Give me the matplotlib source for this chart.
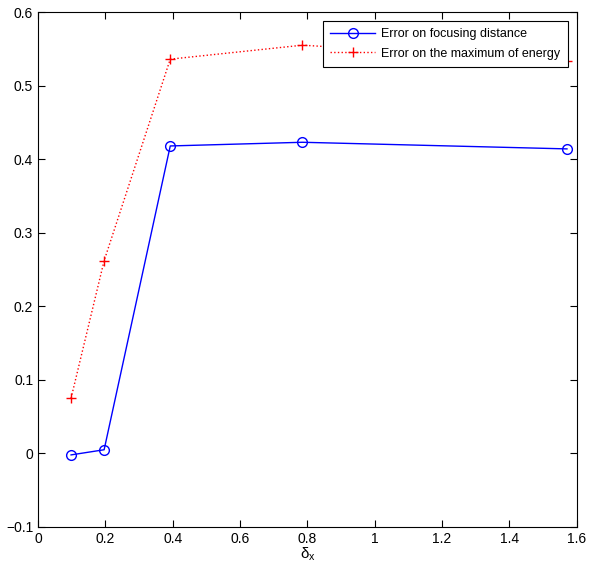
import numpy as np
import matplotlib
matplotlib.use('Agg')
import matplotlib.pyplot as plt

plt.rcParams['font.family'] = ['Liberation Sans', 'DejaVu Sans']
plt.rcParams['mathtext.fontset'] = 'custom'
plt.rcParams['mathtext.rm'] = 'Liberation Sans'
plt.rcParams['mathtext.it'] = 'Liberation Sans'

# Data
delta_x = [np.pi / 32, np.pi / 16, np.pi / 8, np.pi / 4, np.pi / 2]
err_focus = [-0.002, 0.005, 0.418, 0.423, 0.414]
err_energy = [0.075, 0.262, 0.536, 0.555, 0.533]

fig = plt.figure(figsize=(5.91, 5.75), dpi=100)
ax = fig.add_axes([0.0643, 0.0835, 0.9117, 0.8955])

ax.plot(delta_x, err_focus, '-o', color='blue', lw=1, ms=7, mfc='none',
        mew=1, label='Error on focusing distance')
ax.plot(delta_x, err_energy, ':+', color='red', lw=1, ms=7, mew=1,
        label='Error on the maximum of energy')

ax.set_xlim(0, 1.6)
ax.set_ylim(-0.1, 0.6)
ax.set_xticks(np.arange(0, 1.61, 0.2))
ax.set_xticklabels(['0', '0.2', '0.4', '0.6', '0.8', '1', '1.2', '1.4', '1.6'])
ax.set_yticks(np.arange(-0.1, 0.61, 0.1))
ax.set_yticklabels(['\u22120.1', '0', '0.1', '0.2', '0.3', '0.4', '0.5', '0.6'])
ax.tick_params(direction='in', top=True, right=True, labelsize=10, length=5)
ax.set_xlabel(r'$\delta_x$', fontsize=11, labelpad=0)

leg = ax.legend(loc='upper right', fontsize=9, fancybox=False, framealpha=1,
                edgecolor='black', borderaxespad=0.7, handlelength=3.6,
                handletextpad=0.5, borderpad=0.6, labelspacing=0.6)
leg.get_frame().set_linewidth(0.8)

fig.savefig('out.png', dpi=100)
